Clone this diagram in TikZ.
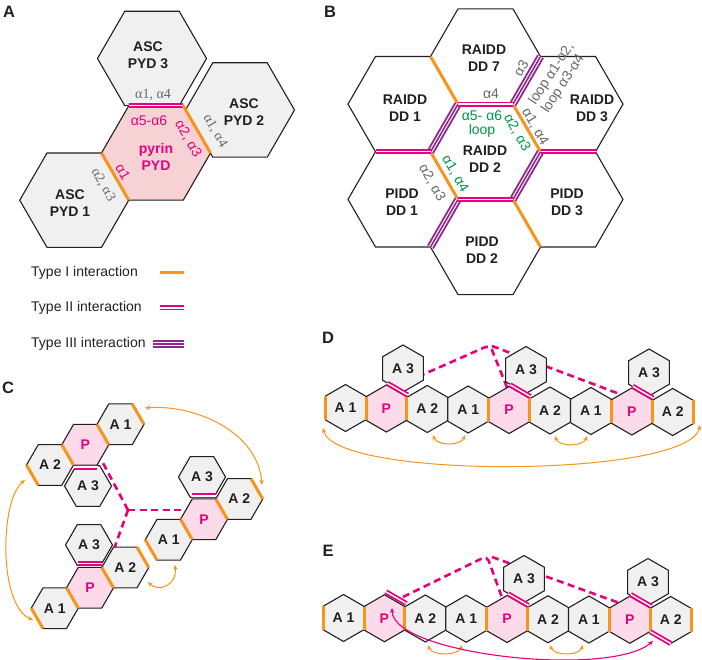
\documentclass[tikz,border=0pt]{standalone}
\usepackage{fontspec}
\setmainfont{Liberation Sans}
\newfontfamily\grserif{Liberation Serif}
\usetikzlibrary{shapes.geometric,arrows.meta,calc}
\definecolor{tI}{RGB}{247,148,29}
\definecolor{tII}{RGB}{230,0,126}
\definecolor{tIII}{RGB}{146,39,143}
\definecolor{hexgrey}{RGB}{240,240,240}
\definecolor{pyrfill}{RGB}{246,210,213}
\definecolor{pfill}{RGB}{252,218,234}
\definecolor{greytxt}{RGB}{105,105,105}
\definecolor{greentxt}{RGB}{0,150,70}
\definecolor{inkk}{RGB}{35,31,32}
\begin{document}
\begin{tikzpicture}[x=1pt,y=-1pt,
  hexbase/.style={regular polygon, regular polygon sides=6, inner sep=0pt, outer sep=0pt, draw=inkk, line width=1.1pt},
  hexbig/.style={hexbase, minimum size=109pt},
  hexB/.style={hexbase, minimum size=110pt, fill=white},
  hexsm/.style={hexbase, minimum size=47pt},
  hexup/.style={hexbase, minimum size=47pt, shape border rotate=30},
  greyhex/.style={fill=hexgrey},
  pyrhex/.style={fill=pyrfill},
  phex/.style={fill=pfill, text=tII},
  hexlbl/.style={font=\bfseries\fontsize{14}{17}\selectfont, text=inkk, align=center, inner sep=0pt},
  greyA/.style={font=\grserif\fontsize{14}{15}\selectfont, text=greytxt, inner sep=0pt},
  greyB/.style={font=\fontsize{14}{15}\selectfont, text=greytxt, inner sep=0pt},
  pinkA/.style={font=\fontsize{14}{15}\selectfont, text=tII, inner sep=0pt},
  greenB/.style={font=\fontsize{14}{13.5}\selectfont, text=greentxt, inner sep=0pt, align=center},
  legend/.style={font=\fontsize{14}{16}\selectfont, text=inkk, inner sep=0pt, anchor=west},
  plbl/.style={font=\bfseries\fontsize{16.5}{18}\selectfont, text=inkk, inner sep=0pt},
  t1/.style={draw=tI, line width=3pt},
  t2/.style={draw=tII, double=white, line width=1.8pt, double distance=1.4pt},
  t3/.style={draw=tIII, line width=7.6pt, postaction={draw=white, line width=1.1pt, double=tIII, double distance=1.6pt}},
  pdash/.style={draw=tII, line width=2.6pt, dash pattern=on 7pt off 4.5pt},
  oarr/.style={draw=tI, line width=1pt, arrows={Stealth[length=5pt,width=4.5pt]-Stealth[length=5pt,width=4.5pt]}},
  parr/.style={draw=tII, line width=1.1pt, arrows={Stealth[length=5pt,width=4.5pt]-Stealth[length=5pt,width=4.5pt]}}
]
\useasboundingbox (0,0) rectangle (702,660);
% corner map (flat hex): 1 TR, 2 TL, 3 L, 4 BL, 5 BR, 6 R
% corner map (pointy hex): 1 T, 2 UL, 3 LL, 4 B, 5 LR, 6 UR

% ---------------- Panel A ----------------
\node[plbl] (pA) at (9,12) {A};
\node[hexbig, greyhex] (a3) at (152,58.5) {};
\node[hexbig, greyhex] (a2) at (240,110) {};
\node[hexbig, greyhex] (a1) at (74.25,200.2) {};
\node[hexbig, pyrhex] (ap) at (156,153) {};
\draw[t2] (ap.corner 2) -- (ap.corner 1);
\draw[t1] (ap.corner 1) -- (ap.corner 6);
\draw[t1] (ap.corner 3) -- (ap.corner 4);
\node[hexlbl] (ta3) at (148,55) {ASC\\PYD 3};
\node[hexlbl] (ta2) at (244,112) {ASC\\PYD 2};
\node[hexlbl, text=tII] (tap) at (156,157) {pyrin\\PYD};
\node[hexlbl] (ta1) at (70,203) {ASC\\PYD 1};
\node[greyA] (la1) at (153,95) {α1, α4};
\node[pinkA] (la2) at (149,121) {α5-α6};
\node[pinkA, rotate=-60] (la3) at (188,139) {α2, α3};
\node[greyA, rotate=-60] (la4) at (215,131) {α1, α4};
\node[pinkA, rotate=-60] (la5) at (123,172) {α1};
\node[greyA, rotate=-60] (la6) at (103,185) {α2, α3};

% ---------------- Legend ----------------
\node[legend] (lg1) at (31,273) {Type I interaction};
\coordinate (lg1a) at (160,273); \coordinate (lg1b) at (184,273);
\draw[t1] (lg1a) -- (lg1b);
\node[legend] (lg2) at (31,308) {Type II interaction};
\coordinate (lg2a) at (160,308); \coordinate (lg2b) at (184,308);
\draw[t2] (lg2a) -- (lg2b);
\node[legend] (lg3) at (31,344) {Type III interaction};
\coordinate (lg3a) at (153,344); \coordinate (lg3b) at (184,344);
\draw[t3] (lg3a) -- (lg3b);

% ---------------- Panel B ----------------
\node[plbl] (pB) at (330,12) {B};
\node[hexB] (b7) at (485.5,56.5) {};
\node[hexB] (b1) at (403,104.1) {};
\node[hexB] (b3) at (568,104.1) {};
\node[hexB] (b2) at (485.5,151.8) {};
\node[hexB] (q1) at (403,199.4) {};
\node[hexB] (q3) at (568,199.4) {};
\node[hexB] (q2) at (485.5,247) {};
\draw[t1] (b7.corner 3) -- (b7.corner 4);
\draw[t1] (b2.corner 1) -- (b2.corner 6);
\draw[t1] (b2.corner 3) -- (b2.corner 4);
\draw[t1] (q2.corner 1) -- (q2.corner 6);
\draw[t3] (b7.corner 6) -- (b7.corner 5);
\draw[t3] (b2.corner 2) -- (b2.corner 3);
\draw[t3] (b2.corner 6) -- (b2.corner 5);
\draw[t3] (q1.corner 6) -- (q1.corner 5);
\draw[t2] (b2.corner 2) -- (b2.corner 1);
\draw[t2] (b1.corner 4) -- (b1.corner 5);
\draw[t2] (b3.corner 4) -- (b3.corner 5);
\draw[t2] (b2.corner 4) -- (b2.corner 5);
\node[hexlbl] (tb7) at (484,58) {RAIDD\\DD 7};
\node[hexlbl] (tb1) at (405,108) {RAIDD\\DD 1};
\node[hexlbl] (tb3) at (592,108) {RAIDD\\DD 3};
\node[hexlbl] (tb2) at (485,159) {RAIDD\\DD 2};
\node[hexlbl] (tq1) at (402,202) {PIDD\\DD 1};
\node[hexlbl] (tq3) at (567,202) {PIDD\\DD 3};
\node[hexlbl] (tq2) at (482,250) {PIDD\\DD 2};
\node[greyB] (lb1) at (491,94) {α4};
\node[greyB, rotate=60] (lb2) at (521,68) {α3};
\node[greyB, rotate=57, align=left] (lb3) at (558,78) {loop α1-α2,\\loop α3-α4};
\node[greyB, rotate=-60] (lb4) at (535,127) {α1, α4};
\node[greyB, rotate=-60] (lb5) at (432,183) {α2, α3};
\node[greenB] (lb6) at (482,124) {α5- α6\\loop};
\node[greenB, rotate=-60] (lb7) at (517,133) {α2, α3};
\node[greenB, rotate=-60] (lb8) at (455,174) {α1, α4};

% ---------------- Panel C ----------------
\node[plbl] (pC) at (8,387.5) {C};
\coordinate (cj) at (128,510);
\coordinate (cj1) at (103,463);
\coordinate (cj2) at (195,510);
\coordinate (cj3) at (108,566);
\draw[pdash] (cj) -- (cj1);
\draw[pdash] (cj) -- (cj2);
\draw[pdash] (cj) -- (cj3);
% top-left cluster
\node[hexsm, greyhex, hexlbl] (cA1) at (120.5,424.3) {A 1};
\node[hexsm, greyhex, hexlbl] (cA2) at (50,465) {A 2};
\node[hexsm, greyhex, hexlbl] (cA3) at (88,486) {A 3};
\node[hexsm, phex, hexlbl, text=tII] (cP) at (85.3,444.7) {P};
\draw[t1] (cA1.corner 1) -- (cA1.corner 6);
\draw[t1] (cP.corner 1) -- (cP.corner 6);
\draw[t1] (cP.corner 3) -- (cP.corner 4);
\draw[t1] (cA2.corner 3) -- (cA2.corner 4);
\draw[t2] ([yshift=-2pt]cP.corner 4) -- ([yshift=-2pt]cP.corner 5);
% right cluster
\node[hexsm, greyhex, hexlbl] (rA3) at (202,477) {A 3};
\node[hexsm, greyhex, hexlbl] (rA2) at (239.25,499) {A 2};
\node[hexsm, greyhex, hexlbl] (rA1) at (168.75,539.7) {A 1};
\node[hexsm, phex, hexlbl, text=tII] (rP) at (204,519.3) {P};
\draw[t1] (rA1.corner 3) -- (rA1.corner 4);
\draw[t1] (rP.corner 3) -- (rP.corner 4);
\draw[t1] (rP.corner 1) -- (rP.corner 6);
\draw[t1] (rA2.corner 1) -- (rA2.corner 6);
\draw[t2] ([yshift=3pt]rP.corner 2) -- ([yshift=3pt]rP.corner 1);
% bottom cluster
\node[hexsm, greyhex, hexlbl] (bA3) at (89,545) {A 3};
\node[hexsm, greyhex, hexlbl] (bA2) at (125.25,567.5) {A 2};
\node[hexsm, greyhex, hexlbl] (bA1) at (54.75,608.2) {A 1};
\node[hexsm, phex, hexlbl, text=tII] (bP) at (90,587.8) {P};
\draw[t1] (bA1.corner 3) -- (bA1.corner 4);
\draw[t1] (bP.corner 3) -- (bP.corner 4);
\draw[t1] (bP.corner 1) -- (bP.corner 6);
\draw[t1] (bA2.corner 1) -- (bA2.corner 6);
\draw[t2] ([yshift=4pt]bP.corner 2) -- ([yshift=4pt]bP.corner 1);
% arrows
\coordinate (ca1) at (145,408); \coordinate (ca2) at (262,485);
\draw[oarr] (ca1) .. controls (195,404) and (258,432) .. (ca2);
\coordinate (ca3) at (25,480); \coordinate (ca4) at (33,620);
\draw[oarr] (ca3) .. controls (0,500) and (-2,605) .. (ca4);
\coordinate (ca5) at (148,582); \coordinate (ca6) at (175,565);
\draw[oarr] (ca5) .. controls (158,592) and (177,586) .. (ca6);

% ---------------- Panel D ----------------
\node[plbl] (pD) at (328,338) {D};
\coordinate (dk0) at (397,386);
\coordinate (dk1) at (490,345);
\coordinate (dk2) at (510,395);
\coordinate (dk3) at (492,346);
\coordinate (dk4) at (625,396);
\draw[pdash, rounded corners=5pt] (dk0) -- (dk1) -- (dk2);
\draw[pdash] (dk3) -- (dk4);
\node[hexup, greyhex, hexlbl] (d0) at (345.5,408) {A 1};
\node[hexup, phex, hexlbl, text=tII] (d1) at (386.4,408.5) {P};
\node[hexup, greyhex, hexlbl] (d2) at (427.3,409) {A 2};
\node[hexup, greyhex, hexlbl] (d3) at (468.2,409.5) {A 1};
\node[hexup, phex, hexlbl, text=tII] (d4) at (509.1,410) {P};
\node[hexup, greyhex, hexlbl] (d5) at (550,410.5) {A 2};
\node[hexup, greyhex, hexlbl] (d6) at (590.9,411) {A 1};
\node[hexup, phex, hexlbl, text=tII] (d7) at (631.8,411.5) {P};
\node[hexup, greyhex, hexlbl] (d8) at (672.7,412) {A 2};
\node[hexup, greyhex, hexlbl] (dA1) at (403,368.5) {A 3};
\node[hexup, greyhex, hexlbl] (dA2) at (526,370) {A 3};
\node[hexup, greyhex, hexlbl] (dA3) at (649,372.5) {A 3};
\draw[t1] (d0.corner 2) -- (d0.corner 3);
\foreach \n in {d1,d4,d7}{
  \draw[t1] (\n.corner 2) -- (\n.corner 3);
  \draw[t1] (\n.corner 6) -- (\n.corner 5);
  \draw[t2] ([shift={(1pt,1.7pt)}]\n.corner 1) -- ([shift={(1pt,1.7pt)}]\n.corner 6);
}
\draw[t1] (d8.corner 6) -- (d8.corner 5);
\coordinate (da1) at (323,428); \coordinate (da2) at (700,425);
\draw[oarr] (da1) .. controls (335,480) and (690,478) .. (da2);
\coordinate (da3) at (433,435); \coordinate (da4) at (465,435);
\draw[oarr] (da3) .. controls (437,446) and (461,446) .. (da4);
\coordinate (da5) at (555,436); \coordinate (da6) at (587,436);
\draw[oarr] (da5) .. controls (559,447) and (583,447) .. (da6);

% ---------------- Panel E ----------------
\node[plbl] (pE) at (328,551) {E};
\coordinate (ek0) at (403,597);
\coordinate (ek1) at (487,556);
\coordinate (ek2) at (505,606);
\coordinate (ek3) at (492,557);
\coordinate (ek4) at (625,605);
\draw[pdash, rounded corners=5pt] (ek0) -- (ek1) -- (ek2);
\draw[pdash] (ek3) -- (ek4);
\node[hexup, greyhex, hexlbl] (e0) at (343.5,618) {A 1};
\node[hexup, phex, hexlbl, text=tII] (e1) at (384.4,618.25) {P};
\node[hexup, greyhex, hexlbl] (e2) at (425.3,618.5) {A 2};
\node[hexup, greyhex, hexlbl] (e3) at (466.2,618.75) {A 1};
\node[hexup, phex, hexlbl, text=tII] (e4) at (507.1,619) {P};
\node[hexup, greyhex, hexlbl] (e5) at (548,619.25) {A 2};
\node[hexup, greyhex, hexlbl] (e6) at (588.9,619.5) {A 1};
\node[hexup, phex, hexlbl, text=tII] (e7) at (629.8,619.75) {P};
\node[hexup, greyhex, hexlbl] (e8) at (670.7,620) {A 2};
\node[hexup, greyhex, hexlbl] (eA2) at (524,579) {A 3};
\node[hexup, greyhex, hexlbl] (eA3) at (648,582) {A 3};
\draw[t1] (e0.corner 2) -- (e0.corner 3);
\foreach \n in {e1,e4,e7}{
  \draw[t1] (\n.corner 2) -- (\n.corner 3);
  \draw[t1] (\n.corner 6) -- (\n.corner 5);
}
\draw[t1] (e8.corner 6) -- (e8.corner 5);
\draw[t2] ([shift={(1.5pt,3pt)}]e1.corner 1) -- ([shift={(1.5pt,3pt)}]e1.corner 6);
\draw[t2] ([shift={(1pt,1.7pt)}]e4.corner 1) -- ([shift={(1pt,1.7pt)}]e4.corner 6);
\draw[t2] ([shift={(1pt,1.7pt)}]e7.corner 1) -- ([shift={(1pt,1.7pt)}]e7.corner 6);
\draw[t2] (e8.corner 3) -- (e8.corner 4);
\coordinate (ea1) at (428,645); \coordinate (ea2) at (462,645);
\draw[oarr] (ea1) .. controls (432,656) and (458,656) .. (ea2);
\coordinate (ea3) at (550,645); \coordinate (ea4) at (583,645);
\draw[oarr] (ea3) .. controls (554,656) and (579,656) .. (ea4);
\coordinate (ep1) at (392,608); \coordinate (ep2) at (653,641);
\draw[parr] (ep1) .. controls (393,655) and (610,678) .. (ep2);
\end{tikzpicture}
\end{document}
